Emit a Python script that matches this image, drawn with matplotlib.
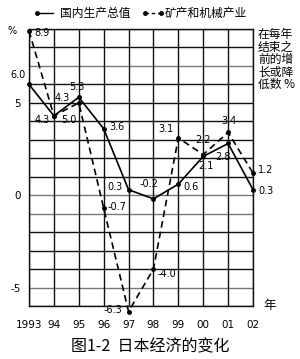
import matplotlib
matplotlib.use("Agg")
import matplotlib.pyplot as plt
from matplotlib.lines import Line2D

plt.rcParams['font.family'] = ['Noto Sans CJK SC', 'DejaVu Sans']

years = [1993, 1994, 1995, 1996, 1997, 1998, 1999, 2000, 2001, 2002]
year_labels = ["1993", "94", "95", "96", "97", "98", "99", "00", "01", "02"]
gdp = [6.0, 4.3, 5.3, 3.6, 0.3, -0.2, 0.6, 2.1, 2.8, 0.3]
mining = [8.9, 4.3, 5.0, -0.7, -6.3, -4.0, 3.1, 2.2, 3.4, 1.2]
series_names = ["国内生产总值", "矿产和机械产业"]
title = "图1-2  日本经济的变化"
side_note = "在每年\n结束之\n前的增\n长或降\n低数 %"

# label offsets in pixels (dx, dy up)
gdp_off = [(-11, 9), (-12, -4), (-2, 10), (13, 2), (-14, 3), (-4, 15), (13, -3), (3, -10), (-5, -14), (13, -1)]
mining_off = [(13, -2), (8, 18), (-10, -17), (13, 1), (-16, 2), (13, -5), (-12, 9), (0, 15), (1, 11), (13, 3)]

fig = plt.figure(figsize=(3.0, 3.59), dpi=100)
ax = fig.add_axes([29/300, 1-306/359, 224/300, 277/359])
ax.set_xlim(years[0], years[-1])
ax.set_ylim(-6, 9)

# grid
for y in range(-6, 10):
    col = '#777777' if y in (0, -1, -5, 7) else '#111111'
    ax.axhline(y, color=col, lw=1.0, zorder=1)
for x in years:
    ax.axvline(x, color='#111111', lw=1.0, zorder=1)
for s in ax.spines.values():
    s.set_linewidth(1.0)
    s.set_color('#111111')

ax.plot(years, gdp, color='black', lw=1.2, marker='o', ms=2.5, zorder=3, clip_on=False)
ax.plot(years, mining, color='black', lw=1.2, ls=(0, (4, 2.5)), marker='o', ms=2.5, zorder=3, clip_on=False)

px = 0.72
for x, v, (dx, dy) in zip(years, gdp, gdp_off):
    ax.annotate(f"{v:.1f}", (x, v), xytext=(dx*px, dy*px), textcoords='offset points',
                ha='center', va='center', fontsize=7, family='DejaVu Sans',
                zorder=4, annotation_clip=False)
for x, v, (dx, dy) in zip(years, mining, mining_off):
    ax.annotate(f"{v:.1f}", (x, v), xytext=(dx*px, dy*px), textcoords='offset points',
                ha='center', va='center', fontsize=7, family='DejaVu Sans',
                zorder=4, annotation_clip=False)

ax.set_xticks(years)
ax.set_xticklabels(year_labels, fontsize=7.5, family='DejaVu Sans')
ax.set_yticks([-5, 0, 5])
ax.set_yticklabels(["-5", "0", "5"], fontsize=7.5, family='DejaVu Sans')
ax.tick_params(length=0, pad=10)
ax.tick_params(axis='y', pad=6)

# side texts
fig.text(12/300, 1-31/359, "%", fontsize=7, ha='center', va='center', family='DejaVu Sans')
fig.text(258/300, 1-28/359, side_note, fontsize=8.5, ha='left', va='top', linespacing=0.95)
fig.text(270/300, 1-306/359, "年", fontsize=9, ha='center', va='center')

# legend
y_leg = 1-13/359
fig.add_artist(Line2D([37/300, 53/300], [y_leg, y_leg], color='black', lw=1.0))
fig.add_artist(Line2D([37/300], [y_leg], color='black', marker='o', ms=2.5))
fig.text(60/300, y_leg, series_names[0], fontsize=8.5, ha='left', va='center')
fig.add_artist(Line2D([145/300, 161/300], [y_leg, y_leg], color='black', lw=1.0, ls=(0, (2.5, 2))))
fig.add_artist(Line2D([145/300, 161/300], [y_leg, y_leg], color='black', marker='o', ms=2.5, ls='none'))
fig.text(165/300, y_leg, series_names[1], fontsize=8.5, ha='left', va='center')

fig.text(150/300, 1-347/359, title, fontsize=11.5, ha='center', va='center')

fig.savefig("out.png", dpi=100)
